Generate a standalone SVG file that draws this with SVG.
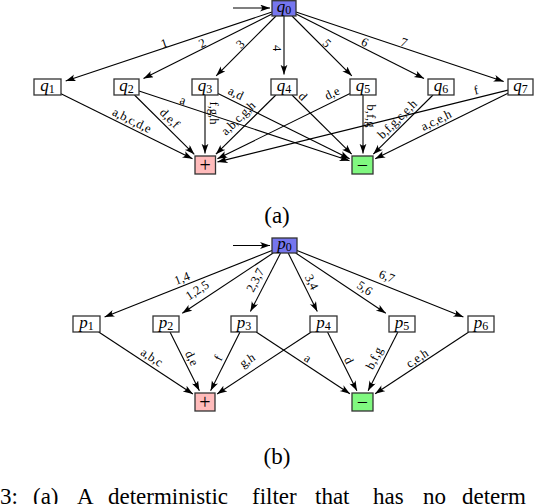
<svg xmlns="http://www.w3.org/2000/svg" width="554" height="504" viewBox="0 0 554 504" font-family="'Liberation Serif','Times New Roman',serif">
<style>
.e{stroke:#000;stroke-width:1.1;fill:none;marker-end:url(#ah)}
.n{fill:#fff;stroke:#333;stroke-width:1.3}
.s{fill:#7676EE}
.p{fill:#FFBBBB}
.m{fill:#80F880}
.l{font-size:12.5px;text-anchor:middle}
.t{font-size:17px;text-anchor:middle}
.t .v{font-style:italic}
.t .i{font-size:12px}
.pm{font-size:20px;text-anchor:middle}
.c{font-size:23px}
</style>
<defs>
<marker id="ah" markerUnits="userSpaceOnUse" markerWidth="12" markerHeight="10" refX="10" refY="3.5" orient="auto">
<path d="M0,0 Q4,3.5 0,7 L10,3.5 z" fill="#000"/>
</marker>
</defs>

<g id="connectors">
<!-- (a) -->
<line class="e" x1="233" y1="8" x2="270" y2="8"/>
<line class="e" x1="272" y1="12" x2="65.7" y2="80.9"/>
<line class="e" x1="272" y1="14" x2="143.5" y2="78.5"/>
<line class="e" x1="276" y1="16" x2="216.2" y2="75.8"/>
<line class="e" x1="284" y1="16" x2="284" y2="74.5"/>
<line class="e" x1="292" y1="16" x2="351.8" y2="75.8"/>
<line class="e" x1="296" y1="14" x2="424" y2="78.4"/>
<line class="e" x1="296" y1="12" x2="503.7" y2="81.4"/>

<line class="e" x1="61" y1="93.7" x2="192.5" y2="158.8"/>
<line class="e" x1="134.5" y1="95" x2="194.3" y2="154.3"/>
<line class="e" x1="139" y1="91.1" x2="349.5" y2="160.7"/>
<line class="e" x1="205" y1="95" x2="205" y2="153.5"/>
<line class="e" x1="218" y1="93.4" x2="349.6" y2="158.8"/>
<line class="e" x1="275.9" y1="95" x2="215.9" y2="154.2"/>
<line class="e" x1="292" y1="95" x2="351.7" y2="154.2"/>
<line class="e" x1="350" y1="93.4" x2="217.4" y2="158.8"/>
<line class="e" x1="363" y1="95" x2="363" y2="153.5"/>
<line class="e" x1="433" y1="95" x2="373.3" y2="154.2"/>
<line class="e" x1="508" y1="90.1" x2="217.5" y2="161.9"/>
<line class="e" x1="508" y1="93.2" x2="375.2" y2="158.7"/>

<g class="l">
<text transform="translate(164,43) rotate(-18.5)" dy="0.35em">1</text>
<text transform="translate(202,43) rotate(-26.6)" dy="0.35em">2</text>
<text transform="translate(240,44) rotate(-45)" dy="0.35em">3</text>
<text transform="translate(277,48) rotate(90)" dy="0.35em">4</text>
<text transform="translate(327,43) rotate(45)" dy="0.35em">5</text>
<text transform="translate(365,42) rotate(26.7)" dy="0.35em">6</text>
<text transform="translate(404,42) rotate(18.5)" dy="0.35em">7</text>

<text transform="translate(132,120) rotate(26.3)" dy="0.35em">a,b,c,d,e</text>
<text transform="translate(170,118) rotate(44.8)" dy="0.35em">d,e,f</text>
<text transform="translate(183,100) rotate(18.3)" dy="0.35em">a</text>
<text transform="translate(214,113) rotate(90)" dy="0.35em">f,g,h</text>
<text transform="translate(236,93) rotate(26.3)" dy="0.35em">a,d</text>
<text transform="translate(238,118) rotate(-44.6)" dy="0.35em">a,b,c,g,h</text>
<text transform="translate(303,96) rotate(44.8)" dy="0.35em">d</text>
<text transform="translate(332,93) rotate(-26.3)" dy="0.35em">d,e</text>
<text transform="translate(371,116) rotate(90)" dy="0.35em">b,f,g</text>
<text transform="translate(397,119) rotate(-44.8)" dy="0.35em">b,f,g,c,e,h</text>
<text transform="translate(476,90) rotate(-13.9)" dy="0.35em">f</text>
<text transform="translate(436,120) rotate(-26.3)" dy="0.35em">a,c,e,h</text>
</g>

<!-- (b) -->
<line class="e" x1="233" y1="245.5" x2="270" y2="245.5"/>
<line class="e" x1="272" y1="250.5" x2="104.6" y2="316.9"/>
<line class="e" x1="273.2" y1="253" x2="182.3" y2="313.2"/>
<line class="e" x1="280.6" y1="253" x2="250.4" y2="311.6"/>
<line class="e" x1="288.2" y1="253" x2="317.3" y2="311.5"/>
<line class="e" x1="295.7" y1="253" x2="385.8" y2="313.2"/>
<line class="e" x1="297" y1="250.5" x2="463.4" y2="317"/>

<line class="e" x1="98.7" y1="332" x2="192.9" y2="394"/>
<line class="e" x1="170" y1="332" x2="199.4" y2="390.8"/>
<line class="e" x1="240" y1="332" x2="210.6" y2="390.8"/>
<line class="e" x1="311.3" y1="332" x2="217.1" y2="394"/>
<line class="e" x1="256.2" y1="332" x2="349.9" y2="393.7"/>
<line class="e" x1="327.5" y1="332" x2="356.9" y2="390.8"/>
<line class="e" x1="397.9" y1="332" x2="368.1" y2="390.8"/>
<line class="e" x1="468.8" y1="332" x2="375.1" y2="393.7"/>

<g class="l">
<text transform="translate(182,278) rotate(-21.6)" dy="0.35em">1,4</text>
<text transform="translate(197,290) rotate(-33.5)" dy="0.35em">1,2,5</text>
<text transform="translate(255,280) rotate(-62.7)" dy="0.35em">2,3,7</text>
<text transform="translate(312,282) rotate(63.6)" dy="0.35em">3,4</text>
<text transform="translate(365,288) rotate(33.7)" dy="0.35em">5,6</text>
<text transform="translate(387,276) rotate(21.8)" dy="0.35em">6,7</text>

<text transform="translate(152,357) rotate(33.4)" dy="0.35em">a,b,c</text>
<text transform="translate(192,358) rotate(63.4)" dy="0.35em">d,e</text>
<text transform="translate(218,358) rotate(-63.4)" dy="0.35em">f</text>
<text transform="translate(247,360) rotate(-33.4)" dy="0.35em">g,h</text>
<text transform="translate(308,358) rotate(33.4)" dy="0.35em">a</text>
<text transform="translate(349,360) rotate(63.4)" dy="0.35em">d</text>
<text transform="translate(374,358) rotate(-63.1)" dy="0.35em">b,f,g</text>
<text transform="translate(417,358) rotate(-33.4)" dy="0.35em">c,e,h</text>
</g>
</g>

<!-- (a) nodes -->
<g id="q0"><rect class="n s" x="272" y="0.7" width="24" height="15.3"/><text class="t" x="284" y="12"><tspan class="v">q</tspan><tspan class="i" dy="2">0</tspan></text></g>
<g id="q1"><rect class="n" x="34" y="79" width="27" height="16"/><text class="t" x="47.5" y="91"><tspan class="v">q</tspan><tspan class="i" dy="2">1</tspan></text></g>
<g id="q2"><rect class="n" x="114" y="79" width="25" height="16"/><text class="t" x="126.5" y="91"><tspan class="v">q</tspan><tspan class="i" dy="2">2</tspan></text></g>
<g id="q3"><rect class="n" x="192" y="79" width="26" height="16"/><text class="t" x="205" y="91"><tspan class="v">q</tspan><tspan class="i" dy="2">3</tspan></text></g>
<g id="q4"><rect class="n" x="271" y="79" width="26" height="16"/><text class="t" x="284" y="91"><tspan class="v">q</tspan><tspan class="i" dy="2">4</tspan></text></g>
<g id="q5"><rect class="n" x="350" y="79" width="26" height="16"/><text class="t" x="363" y="91"><tspan class="v">q</tspan><tspan class="i" dy="2">5</tspan></text></g>
<g id="q6"><rect class="n" x="428" y="79" width="26" height="16"/><text class="t" x="441" y="91"><tspan class="v">q</tspan><tspan class="i" dy="2">6</tspan></text></g>
<g id="q7"><rect class="n" x="508" y="79" width="25" height="16"/><text class="t" x="520.5" y="91"><tspan class="v">q</tspan><tspan class="i" dy="2">7</tspan></text></g>
<g id="qplus"><rect class="n p" x="195" y="156" width="20.5" height="18"/><text class="pm" x="205.2" y="171.5">+</text></g>
<g id="qminus"><rect class="n m" x="352" y="156" width="21" height="18"/><text class="pm" x="362.5" y="171.5">−</text></g>

<text class="c" x="277" y="223" text-anchor="middle">(a)</text>

<!-- (b) nodes -->
<g id="p0"><rect class="n s" x="272" y="238" width="25" height="15"/><text class="t" x="284.5" y="249"><tspan class="v">p</tspan><tspan class="i" dy="2">0</tspan></text></g>
<g id="p1"><rect class="n" x="73" y="316" width="27" height="16"/><text class="t" x="86.5" y="327.5"><tspan class="v">p</tspan><tspan class="i" dy="2">1</tspan></text></g>
<g id="p2"><rect class="n" x="153" y="316" width="26" height="16"/><text class="t" x="166" y="327.5"><tspan class="v">p</tspan><tspan class="i" dy="2">2</tspan></text></g>
<g id="p3"><rect class="n" x="231" y="316" width="26" height="16"/><text class="t" x="244" y="327.5"><tspan class="v">p</tspan><tspan class="i" dy="2">3</tspan></text></g>
<g id="p4"><rect class="n" x="310" y="316" width="27" height="16"/><text class="t" x="323.5" y="327.5"><tspan class="v">p</tspan><tspan class="i" dy="2">4</tspan></text></g>
<g id="p5"><rect class="n" x="389" y="316" width="26" height="16"/><text class="t" x="402" y="327.5"><tspan class="v">p</tspan><tspan class="i" dy="2">5</tspan></text></g>
<g id="p6"><rect class="n" x="468" y="316" width="26" height="16"/><text class="t" x="481" y="327.5"><tspan class="v">p</tspan><tspan class="i" dy="2">6</tspan></text></g>
<g id="pplus"><rect class="n p" x="195" y="393" width="20" height="18"/><text class="pm" x="205" y="408.5">+</text></g>
<g id="pminus"><rect class="n m" x="352" y="393" width="21" height="18"/><text class="pm" x="362.5" y="408.5">−</text></g>

<text class="c" x="277" y="464" text-anchor="middle">(b)</text>

<text class="c" y="504"><tspan x="0">3:</tspan><tspan x="33">(a)</tspan><tspan x="77">A</tspan><tspan x="108">deterministic</tspan><tspan x="252">filter</tspan><tspan x="315">that</tspan><tspan x="373">has</tspan><tspan x="423">no</tspan><tspan x="462">determ</tspan></text>
</svg>
